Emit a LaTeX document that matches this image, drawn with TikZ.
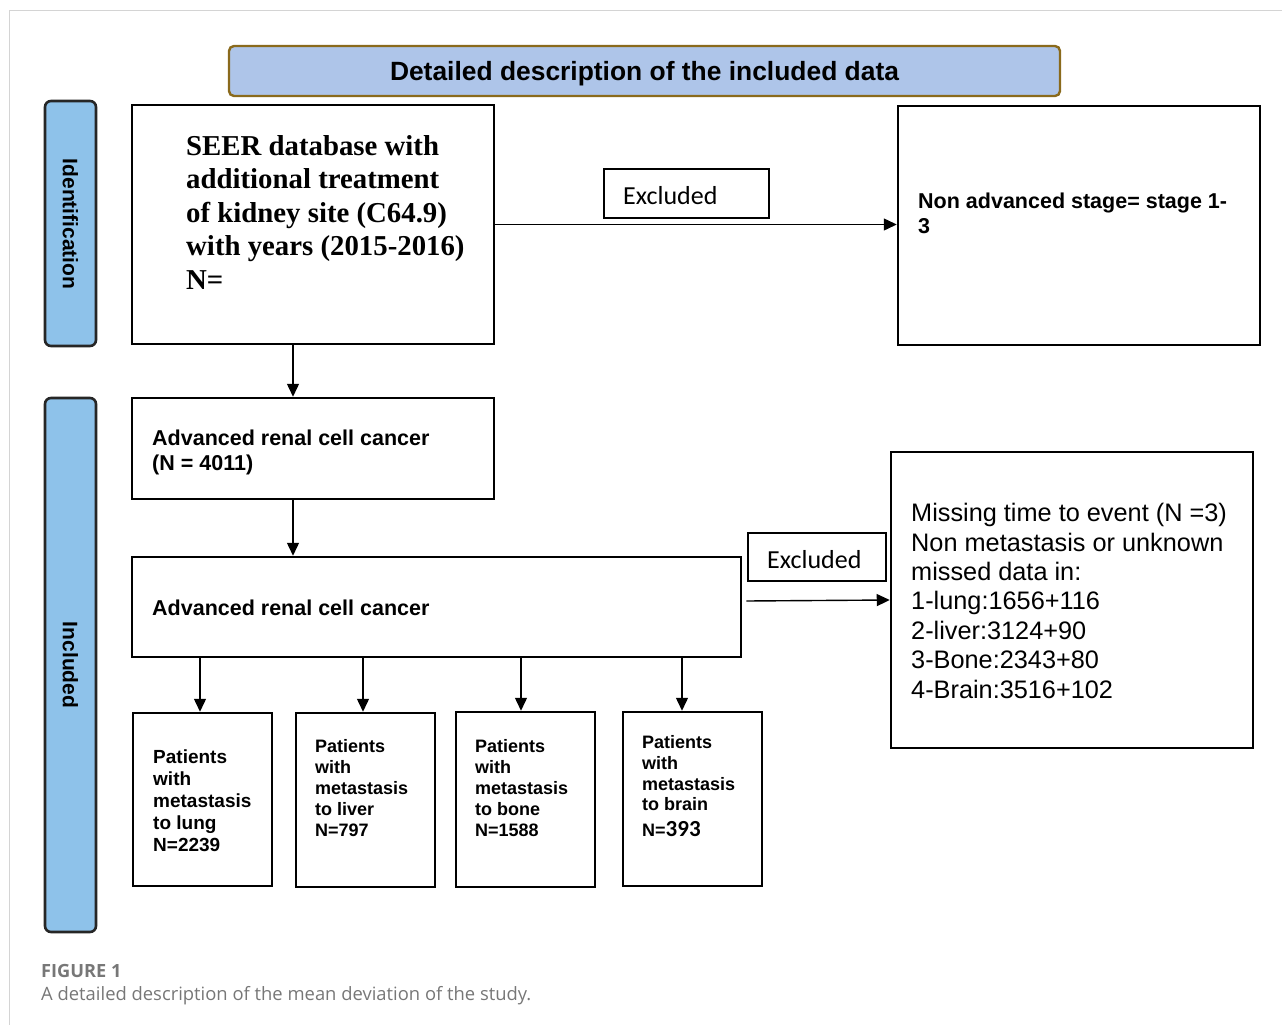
\documentclass[tikz,border=0pt]{standalone}
\usepackage{fontspec}
\setmainfont{Liberation Sans}
\newfontfamily\serifbf{Liberation Serif}
\newfontfamily\calfont{Carlito}
\newfontfamily\capfont{Open Sans}
\usetikzlibrary{arrows.meta}
\definecolor{titlefill}{HTML}{AEC5E9}
\definecolor{titleedge}{HTML}{8A6A1C}
\definecolor{barfill}{HTML}{8EC2EA}
\definecolor{capgray}{HTML}{777777}
\definecolor{framegray}{HTML}{D4D4D4}
\tikzset{
  box/.style={draw=black, line width=2.5pt, inner sep=0pt},
  bar/.style={draw=black!85, fill=barfill, line width=2.6pt, rounded corners=6pt, inner sep=0pt, minimum width=51pt},
  arr/.style={line width=1.4pt, -{Triangle[length=13pt,width=12pt]}},
  txt/.style={anchor=base west, inner sep=0pt, align=left},
}
\begin{document}
\begin{tikzpicture}[x=1pt,y=-1pt]
\useasboundingbox (0,0) rectangle (1282,1025);
% frame
\draw[framegray, line width=1pt] (9,1025) -- (9,11) -- (1282,11);
% title
\node[draw=titleedge, fill=titlefill, line width=2.4pt, rounded corners=5pt, minimum width=831pt, minimum height=50pt, inner sep=0pt] (title) at (644.5,71) {};
\node[inner sep=0pt, anchor=base, font=\bfseries\fontsize{26.4}{30}\selectfont] (titletext) at (644.5,81) {Detailed description of the included data};
% side bars
\node[bar, minimum height=245pt] (idbar) at (70.5,223.5) {};
\node[rotate=-90, inner sep=0pt, font=\bfseries\fontsize{21}{25}\selectfont] (idtext) at (70.5,224) {Identification};
\node[bar, minimum height=534pt] (incbar) at (70.5,665) {};
\node[rotate=-90, inner sep=0pt, font=\bfseries\fontsize{21}{25}\selectfont] (inctext) at (70.5,665) {Included};
% boxes
\node[box, minimum width=362pt, minimum height=239pt] (seer) at (313,224.5) {};
\node[box, line width=1.6pt, minimum width=165pt, minimum height=49pt] (excl1) at (686.5,193.5) {};
\node[box, minimum width=362pt, minimum height=239pt] (nonadv) at (1079,225.5) {};
\node[box, minimum width=362pt, minimum height=101pt] (adv1) at (313,448.5) {};
\node[box, minimum width=609pt, minimum height=100pt] (adv2) at (436.5,607) {};
\node[box, line width=1.6pt, minimum width=138pt, minimum height=48pt] (excl2) at (817,557) {};
\node[box, minimum width=362pt, minimum height=296pt] (missing) at (1072,600) {};
\node[box, minimum width=139pt, minimum height=173pt] (lung) at (202.5,799.5) {};
\node[box, minimum width=139pt, minimum height=174pt] (liver) at (365.5,800) {};
\node[box, minimum width=139pt, minimum height=175pt] (bone) at (525.5,799.5) {};
\node[box, minimum width=139pt, minimum height=174pt] (brain) at (692.5,799) {};
% texts (anchor = baseline of last line)
\node[txt, font=\serifbf\bfseries\fontsize{28.8}{33.5}\selectfont] (seertext) at (186,289) {SEER database with\\additional treatment\\of kidney site (C64.9)\\with years (2015-2016)\\N=};
\node[txt, font=\calfont\fontsize{26}{30}\selectfont] (excl1text) at (623,204) {Excluded};
\node[txt, font=\bfseries\fontsize{21.5}{25}\selectfont] (nonadvtext) at (918,233) {Non advanced stage= stage 1-\\3};
\node[txt, font=\bfseries\fontsize{21.5}{25}\selectfont] (adv1text) at (152,470) {Advanced renal cell cancer\\(N = 4011)};
\node[txt, font=\bfseries\fontsize{21.5}{25}\selectfont] (adv2text) at (152,615) {Advanced renal cell cancer};
\node[txt, font=\calfont\fontsize{26}{30}\selectfont] (excl2text) at (767,568) {Excluded};
\node[txt, font=\fontsize{25.3}{29.4}\selectfont] (missingtext) at (911,698) {Missing time to event (N =3)\\Non metastasis or unknown\\missed data in:\\1-lung:1656+116\\2-liver:3124+90\\3-Bone:2343+80\\4-Brain:3516+102};
\node[txt, font=\bfseries\fontsize{19}{22.1}\selectfont] (lungtext) at (153,851.7) {Patients\\with\\metastasis\\to lung\\N=2239};
\node[txt, font=\bfseries\fontsize{18}{21}\selectfont] (livertext) at (315,836.7) {Patients\\with\\metastasis\\to liver\\N=797};
\node[txt, font=\bfseries\fontsize{18}{21}\selectfont] (bonetext) at (475,836.7) {Patients\\with\\metastasis\\to bone\\N=1588};
\node[txt, font=\bfseries\fontsize{18}{20.8}\selectfont] (braintext) at (642,836.7) {Patients\\with\\metastasis\\to brain\\[5pt]N={\calfont\fontsize{23}{24}\selectfont 393}};
% caption
\node[txt, font=\capfont\bfseries\fontsize{18.2}{20}\selectfont, text=capgray] (figlabel) at (41,977) {FIGURE 1};
\node[txt, font=\capfont\fontsize{18.4}{22}\selectfont, text=capgray] (figcap) at (41,1000) {A detailed description of the mean deviation of the study.};
% arrows
\draw[arr] (seer.east) -- (seer.east -| nonadv.west);
\draw[arr] ([xshift=-20pt]seer.south) -- ([xshift=-20pt]adv1.north);
\draw[arr] ([xshift=-20pt]adv1.south) -- ([xshift=-20pt]adv1.south |- adv2.north);
\draw[arr] ([shift={(4pt,6pt)}]adv2.east) -- (missing.west);
\draw[arr] ([xshift=-2.5pt]lung.north |- adv2.south) -- ([xshift=-2.5pt]lung.north);
\draw[arr] ([xshift=-2.5pt]liver.north |- adv2.south) -- ([xshift=-2.5pt]liver.north);
\draw[arr] ([xshift=-4.5pt]bone.north |- adv2.south) -- ([xshift=-4.5pt]bone.north);
\draw[arr] ([xshift=-10.5pt]brain.north |- adv2.south) -- ([xshift=-10.5pt]brain.north);
\end{tikzpicture}
\end{document}
